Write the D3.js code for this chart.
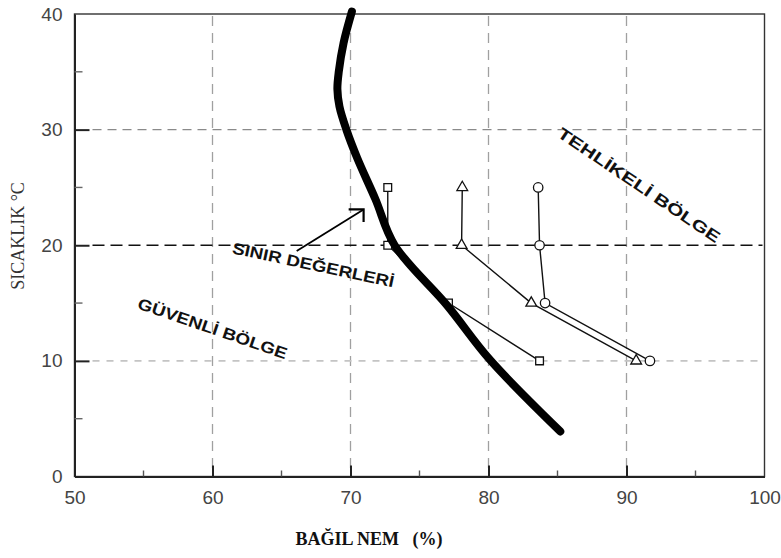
<!DOCTYPE html>
<html><head><meta charset="utf-8">
<script src="https://cdn.jsdelivr.net/npm/d3@7"></script>
<style>body{margin:0;background:#fff}svg{display:block}</style>
</head><body><svg id="c" width="781" height="558"></svg>
<script>
// ---- data ----
const xTicks = [50, 60, 70, 80, 90, 100];
const yTicks = [0, 10, 20, 30, 40];
const xMinor = [55, 65, 75, 85, 95];
const yMinor = [5, 15, 25, 35];
const xGrid = [60, 70, 80, 90];
const yGrid = [10, 20, 30];

// thick limit curve (humidity %, temperature °C)
const limitHum  = [70.1, 69.5, 69.15, 69.05, 69.2, 69.7, 70.5, 71.8, 73.2, 77.0, 80.1, 85.2];
const limitTemp = [40.2, 37.5, 35.0, 33.5, 32.0, 30.0, 27.5, 24.0, 20.0, 14.8, 10.1, 3.9];

// measured series
const seriesTemp = [25, 20, 15, 10];
const squareHum  = [72.7, 72.7, 77.1, 83.7];
const triHum     = [78.1, 78.05, 83.1, 90.7];
const circleHum  = [83.6, 83.7, 84.1, 91.7];

// region labels
const labelText  = ["SINIR DEĞERLERİ", "GÜVENLİ BÖLGE", "TEHLİKELİ BÖLGE"];
const labelHum   = [67.3, 60.0, 90.9];
const labelTemp  = [18.3, 12.8, 25.2];
const labelAngle = [12, 19, 34];
const labelLen   = [165, 157, 192];

// arrow (from label to curve)
const arrowHum  = [66.1, 70.95];
const arrowTemp = [19.5, 23.1];

// ---- chart ----
const svg = d3.select("#c");
const L = 74.5, R = 764.5, T = 14, B = 476.5;
const x = d3.scaleLinear().domain([50, 100]).range([L, R]);
const y = d3.scaleLinear().domain([0, 40]).range([B, T]);

// gridlines
svg.append("g").selectAll("line").data(xGrid).join("line")
  .attr("x1", d => x(d)).attr("x2", d => x(d))
  .attr("y1", T + 2).attr("y2", B - 2)
  .attr("stroke", "#a0a0a0").attr("stroke-width", 1.3).attr("stroke-dasharray", "10,7");

const gStyle = {10: ["#c4c4c4", "7,7", 1.6], 20: ["#111", "12,6", 1.5], 30: ["#8a8a8a", "9,6", 1.4]};
svg.append("g").selectAll("line").data(yGrid).join("line")
  .attr("x1", L + 18).attr("x2", R - 2)
  .attr("y1", d => y(d)).attr("y2", d => y(d))
  .attr("stroke", d => gStyle[d][0]).attr("stroke-dasharray", d => gStyle[d][1])
  .attr("stroke-width", d => gStyle[d][2]);

// frame
svg.append("rect").attr("x", L).attr("y", T).attr("width", R - L).attr("height", B - T)
  .attr("fill", "none").attr("stroke", "#333").attr("stroke-width", 1.4);

// axes with inward ticks
const xAxis = svg.append("g").attr("transform", `translate(0,${B})`)
  .call(d3.axisBottom(x).tickValues(xTicks).tickSizeInner(-11).tickSizeOuter(0).tickPadding(24).tickFormat(d3.format("d")));
const yAxis = svg.append("g").attr("transform", `translate(${L},0)`)
  .call(d3.axisLeft(y).tickValues(yTicks).tickSizeInner(-15).tickSizeOuter(0).tickPadding(12).tickFormat(d3.format("d")));
[xAxis, yAxis].forEach(g => {
  g.select(".domain").attr("stroke", "#222").attr("stroke-width", 2);
  g.selectAll(".tick line").attr("stroke", "#222").attr("stroke-width", 2);
  g.selectAll(".tick text").attr("font-family", "Liberation Sans, Arial, sans-serif")
    .attr("font-size", 19).attr("fill", "#444");
});
xAxis.selectAll(".tick text").attr("dy", "0.2em");
xAxis.selectAll(".tick").filter(d => d === 50 || d === 100).select("line").remove();
yAxis.selectAll(".tick").filter(d => d === 0 || d === 40).select("line").remove();

svg.append("g").selectAll("line").data(xMinor).join("line")
  .attr("x1", d => x(d)).attr("x2", d => x(d)).attr("y1", B).attr("y2", B - 6)
  .attr("stroke", "#555").attr("stroke-width", 1.4);
svg.append("g").selectAll("line").data(yMinor).join("line")
  .attr("y1", d => y(d)).attr("y2", d => y(d)).attr("x1", L).attr("x2", L + 8)
  .attr("stroke", "#666").attr("stroke-width", 1.4);

// axis titles
svg.append("text").attr("x", 369).attr("y", 545).attr("text-anchor", "middle")
  .attr("font-family", "Liberation Serif, Times New Roman, serif").attr("font-weight", "bold")
  .attr("font-size", 18).attr("fill", "#111").attr("xml:space", "preserve")
  .text("BAĞIL NEM   (%)");
svg.append("text").attr("transform", "translate(24,236) rotate(-90)").attr("text-anchor", "middle")
  .attr("font-family", "Liberation Serif, Times New Roman, serif")
  .attr("font-size", 18).attr("fill", "#333").text("SICAKLIK °C");

// series lines
const line = d3.line().x(d => x(d[0])).y(d => y(d[1]));
const seriesDefs = [
  {hum: squareHum, sym: d3.symbolSquare, size: 60},
  {hum: triHum, sym: d3.symbolTriangle, size: 50},
  {hum: circleHum, sym: d3.symbolCircle, size: 70}
];
seriesDefs.forEach(s => {
  const pts = s.hum.map((h, i) => [h, seriesTemp[i]]);
  svg.append("path").attr("d", line(pts)).attr("fill", "none")
    .attr("stroke", "#111").attr("stroke-width", 1.4);
  svg.append("g").selectAll("path").data(pts).join("path")
    .attr("transform", d => `translate(${x(d[0])},${y(d[1])})`)
    .attr("d", d3.symbol().type(s.sym).size(s.size))
    .attr("fill", "#fff").attr("stroke", "#111").attr("stroke-width", 1.3);
});

// thick limit curve
const curvePts = limitHum.map((h, i) => [h, limitTemp[i]]);
svg.append("path").attr("d", d3.line().curve(d3.curveCatmullRom.alpha(0.5)).x(d => x(d[0])).y(d => y(d[1]))(curvePts))
  .attr("fill", "none").attr("stroke", "#000").attr("stroke-width", 8).attr("stroke-linecap", "round");

// arrow
const defs = svg.append("defs");
defs.append("marker").attr("id", "ah").attr("viewBox", "-14 -10 16 24")
  .attr("refX", 0).attr("refY", 0).attr("markerWidth", 16).attr("markerHeight", 24)
  .attr("markerUnits", "userSpaceOnUse").attr("orient", "auto")
  .append("path").attr("d", "M-12.7,-7.9 L0,0 L-6.6,10.6").attr("fill", "none")
  .attr("stroke", "#000").attr("stroke-width", 2.2);
svg.append("line")
  .attr("x1", x(arrowHum[0])).attr("y1", y(arrowTemp[0]))
  .attr("x2", x(arrowHum[1])).attr("y2", y(arrowTemp[1]))
  .attr("stroke", "#000").attr("stroke-width", 1.8).attr("marker-end", "url(#ah)");

// region labels
labelText.forEach((t, i) => {
  svg.append("text")
    .attr("transform", `translate(${x(labelHum[i])},${y(labelTemp[i])}) rotate(${labelAngle[i]})`)
    .attr("text-anchor", "middle").attr("dominant-baseline", "central")
    .attr("font-family", "Liberation Sans, Arial, sans-serif").attr("font-weight", "bold")
    .attr("font-size", 16).attr("fill", "#111")
    .attr("textLength", labelLen[i]).attr("lengthAdjust", "spacingAndGlyphs")
    .text(t);
});
</script></body></html>
